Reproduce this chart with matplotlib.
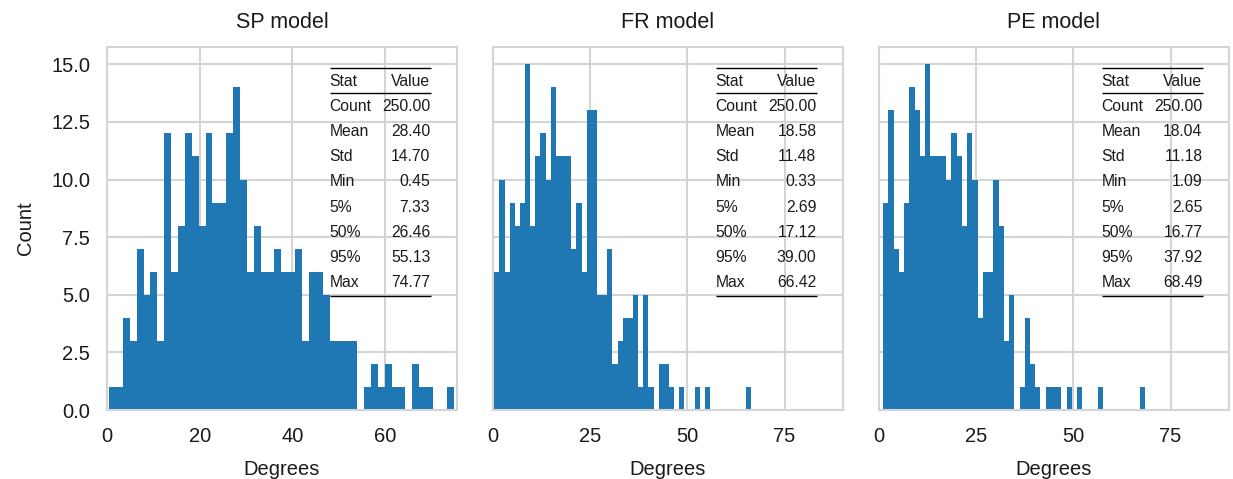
import numpy as np
import matplotlib
matplotlib.use("Agg")
import matplotlib.pyplot as plt

# panel titles
models = ["SP model", "FR model", "PE model"]

# histogram counts (50 bins between min and max)
sp_counts = [1, 1, 4, 3, 7, 5, 6, 3, 12, 6,
             8, 12, 11, 8, 12, 9, 9, 12, 14, 10,
             6, 8, 6, 6, 7, 6, 6, 7, 3, 6,
             6, 5, 3, 3, 3, 3, 0, 1, 2, 1,
             2, 1, 1, 0, 2, 1, 1, 0, 0, 1]
fr_counts = [6, 10, 6, 9, 8, 9, 15, 8, 11, 12,
             10, 14, 11, 11, 11, 7, 9, 6, 13, 13,
             5, 5, 7, 2, 3, 4, 4, 5, 1, 5,
             1, 0, 2, 2, 1, 0, 1, 0, 0, 1,
             0, 1, 0, 0, 0, 0, 0, 0, 0, 1]
pe_counts = [9, 13, 7, 6, 9, 14, 13, 11, 15, 11,
             11, 11, 10, 12, 11, 8, 12, 10, 4, 6,
             6, 10, 8, 3, 5, 0, 1, 4, 2, 1,
             0, 1, 1, 1, 0, 1, 0, 1, 0, 0,
             0, 1, 0, 0, 0, 0, 0, 0, 0, 1]

# summary statistics shown in the tables
stat_names = ["Count", "Mean", "Std", "Min", "5%", "50%", "95%", "Max"]
sp_stats = [250.00, 28.40, 14.70, 0.45, 7.33, 26.46, 55.13, 74.77]
fr_stats = [250.00, 18.58, 11.48, 0.33, 2.69, 17.12, 39.00, 66.42]
pe_stats = [250.00, 18.04, 11.18, 1.09, 2.65, 16.77, 37.92, 68.49]

x_ticks = [[0, 20, 40, 60], [0, 25, 50, 75], [0, 25, 50, 75]]
x_right = [75.5, 90, 90]

plt.rcParams['font.family'] = ['Liberation Sans', 'DejaVu Sans']
TXT = '#1a1a1a'
GRID = '#d4d4d4'


def draw_table(ax, stats):
	# booktabs-like table in the upper right corner
	x0, x1 = 0.636, 0.924
	y_head = 0.906
	dy = 0.0694
	kw = dict(transform=ax.transAxes, fontsize=11.3, color=TXT, va='center')
	ax.text(x0, y_head, "Stat", ha='left', **kw)
	ax.text(x1, y_head, "Value", ha='right', **kw)
	for i, (name, val) in enumerate(zip(stat_names, stats)):
		y = y_head - (i + 1) * dy
		ax.text(x0, y, name, ha='left', **kw)
		ax.text(x1, y, "%.2f" % val, ha='right', **kw)
	for y in (0.943, 0.872, 0.3146):
		ax.plot([x0, x1 + 0.003], [y, y], transform=ax.transAxes,
				color='black', lw=1.0, solid_capstyle='butt')


def draw_panel(ax, title, counts, stats, ticks, right):
	edges = np.linspace(stats[3], stats[7], len(counts) + 1)
	centers = (edges[:-1] + edges[1:]) / 2
	ax.hist(centers, bins=edges, weights=counts, color='#1f77b4', zorder=2)
	ax.set_xlim(0, right)
	ax.set_ylim(0, 15.75)
	ax.set_xticks(ticks)
	ax.set_yticks(np.arange(0, 15.1, 2.5))
	ax.grid(True, color=GRID, lw=1.5, zorder=0)
	ax.set_axisbelow(True)
	for s in ax.spines.values():
		s.set_color(GRID)
		s.set_linewidth(1.5)
	ax.tick_params(length=0, pad=12, labelsize=14.5, colors=TXT)
	ax.set_title(title, fontsize=15.5, pad=14, color=TXT)
	ax.set_xlabel("Degrees", fontsize=14.5, labelpad=10, color=TXT)
	draw_table(ax, stats)


def main():
	fig = plt.figure(figsize=(12.33, 4.79), dpi=100)
	lefts = [0.0868, 0.3998, 0.7129]
	axs = []
	for i, l in enumerate(lefts):
		ax = fig.add_axes([l, 0.144, 0.2838, 0.7579], sharey=axs[0] if axs else None)
		axs.append(ax)
	all_counts = [sp_counts, fr_counts, pe_counts]
	all_stats = [sp_stats, fr_stats, pe_stats]
	for i, ax in enumerate(axs):
		draw_panel(ax, models[i], all_counts[i], all_stats[i], x_ticks[i], x_right[i])
		if i > 0:
			ax.tick_params(labelleft=False)
	axs[0].set_ylabel("Count", fontsize=14.5, labelpad=12, color=TXT)
	fig.savefig("out.png", dpi=100)


if __name__ == "__main__":
	main()
